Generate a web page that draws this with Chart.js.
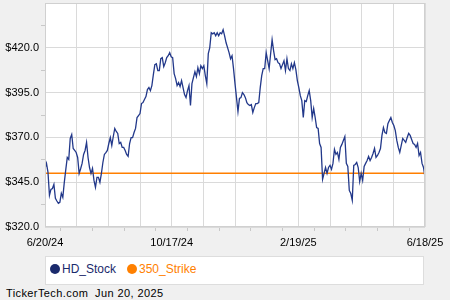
<!DOCTYPE html>
<html>
<head>
<meta charset="utf-8">
<script src="https://cdn.jsdelivr.net/npm/chart.js@4.4.1/dist/chart.umd.min.js"></script>
<style>
  body { margin:0; background:#f0f0f0; width:450px; height:300px; overflow:hidden; font-family:"Liberation Sans", Arial, sans-serif; }
  #grafica { position:absolute; left:0; top:0; }
  #leyenda { position:absolute; left:45px; top:256px; width:377px; height:27px; background:#fff; border:1px solid #ddd; }
  .item { position:absolute; top:5px; font-size:12px; line-height:14px; }
  .punto { display:inline-block; width:10px; height:10px; border-radius:50%; vertical-align:-1px; margin-right:2px; }
  #pie { position:absolute; left:6px; top:287px; font-size:11px; color:#000; letter-spacing:0.4px; }
</style>
</head>
<body>
<canvas id="grafica" width="450" height="250"></canvas>
<div id="leyenda">
  <span class="item" style="left:4px;color:#1a2a6c"><span class="punto" style="background:#1a2a6c"></span>HD_Stock</span>
  <span class="item" style="left:81px;color:#ff8000"><span class="punto" style="background:#ff8000"></span>350_Strike</span>
</div>
<div id="pie">TickerTech.com &nbsp;Jun 20, 2025</div>
<script>
// ****************** DATOS ******************
const fechas = ['6/20/24', '10/17/24', '2/19/25', '6/18/25'];
const ticksY = [320, 345, 370, 395, 420];
const strike = 350;
const yMin = 320, yMax = 445;

// precios de cierre HD
const precios = [
  352.7,355.5,350.6,337.7,341.0,341.5,343.8,336.0,334.5,333.2,
  333.8,338.8,336.5,344.9,352.0,358.8,357.7,369.4,371.6,363.8,
  362.7,361.6,358.8,349.9,352.5,355.5,360.5,362.7,367.2,358.8,
  353.2,349.9,352.7,346.0,342.1,347.7,347.7,344.9,349.9,356.0,
  360.5,361.5,362.7,366.6,369.9,365.5,370.5,375.0,373.3,372.2,
  366.6,367.2,364.4,364.4,362.7,360.5,359.4,366.6,369.9,369.9,
  372.7,375.0,381.1,382.2,383.3,388.9,389.4,391.1,392.8,396.7,
  397.8,396.1,398.9,405.0,410.6,411.1,407.3,407.3,413.9,414.5,
  409.5,411.7,414.5,415.6,417.3,415.0,414.5,405.6,402.8,398.9,
  400.6,
  398.4,401.7,397.8,393.9,392.2,396.1,398.9,387.8,400.0,403.4,
  406.7,403.9,408.9,405.6,410.0,408.4,410.0,404.5,400.0,416.7,
  420.1,428.4,427.8,428.4,426.7,428.4,426.7,428.4,427.8,430.1,
  426.7,422.8,420.1,417.3,413.9,415.6,408.4,400.0,392.2,384.4,
  391.7,392.2,395.0,393.9,392.2,389.4,388.3,387.8,388.3,383.9,
  386.6,388.9,388.9,389.4,397.8,404.5,408.4,408.4,417.3,412.8,
  408.4,416.7,424.5,418.4,413.4,413.9,411.7,411.1,408.4,410.6,
  412.8,407.3,413.9,408.4,407.3,411.1,408.4,411.7,407.8,401.7,
  397.8,393.3,
  390.5,381.1,390.5,390.0,393.3,396.1,390.5,381.1,386.1,381.1,
  375.5,375.0,366.6,364.4,346.6,349.9,353.2,349.9,353.2,354.4,
  352.2,355.5,363.3,360.5,361.6,357.7,364.4,366.1,368.3,370.5,
  355.5,353.8,340.4,338.7,334.9,354.4,354.9,356.0,353.2,345.4,
  349.9,346.0,353.8,355.5,357.1,359.4,357.1,358.8,361.0,363.8,
  358.8,359.9,361.6,363.8,371.1,375.5,372.7,372.2,377.7,379.4,
  381.1,378.3,376.6,373.8,368.3,364.4,361.6,365.5,369.4,368.3,
  367.2,369.9,372.2,371.1,368.8,366.6,366.1,364.4,366.6,359.9,
  361.6,355.5,353.2,347.7
];

const n = precios.length - 1;
const puntos = precios.map(function(v, i){ return {x: i, y: v}; });

// fondo blanco del area de trazado
const fondoPlot = {
  id: 'fondoPlot',
  beforeDraw: function(chart){
    const a = chart.chartArea, ctx = chart.ctx;
    ctx.save();
    ctx.fillStyle = '#fff';
    ctx.fillRect(a.left, a.top, a.width, a.height);
    ctx.restore();
  },
  afterDraw: function(chart){
    const a = chart.chartArea, ctx = chart.ctx;
    ctx.save();
    ctx.strokeStyle = '#d0d0d0';
    ctx.lineWidth = 1;
    ctx.strokeRect(Math.round(a.left) + 0.5, Math.round(a.top) + 0.5, Math.round(a.width) - 1, Math.round(a.height) - 1);
    ctx.restore();
  }
};

const fuente = { family: '"Liberation Sans", Arial, sans-serif', size: 11 };

new Chart(document.getElementById('grafica'), {
  type: 'line',
  data: {
    datasets: [{
      label: 'HD_Stock',
      data: puntos,
      borderColor: '#22388a',
      borderWidth: 1.3,
      pointRadius: 0,
      tension: 0
    }, {
      label: '350_Strike',
      data: [{x: 0, y: strike}, {x: n, y: strike}],
      borderColor: '#ff7f00',
      borderWidth: 1.5,
      pointRadius: 0
    }]
  },
  options: {
    responsive: false,
    animation: false,
    devicePixelRatio: 1,
    layout: { padding: { left: 0, right: 25, top: 3, bottom: 0 } },
    plugins: { legend: { display: false }, tooltip: { enabled: false } },
    scales: {
      x: {
        type: 'linear',
        min: 0,
        max: n,
        afterBuildTicks: function(s){
          const t = [];
          for (let i = 0; i <= 24; i++) t.push({ value: i * n / 24 });
          s.ticks = t;
        },
        afterFit: function(s){ s.height = 23; },
        ticks: {
          autoSkip: false,
          maxRotation: 0,
          padding: 5,
          color: '#000',
          font: fuente,
          callback: function(v, i){ return (i % 8 === 0) ? fechas[i / 8] : ''; }
        },
        grid: {
          tickLength: 4,
          color: function(c){ return c.index % 2 === 0 ? '#dadada' : 'rgba(0,0,0,0)'; },
          tickColor: function(c){ return c.index % 2 === 1 ? '#c8c8c8' : 'rgba(0,0,0,0)'; }
        },
        border: { display: false }
      },
      y: {
        min: yMin,
        max: yMax,
        afterBuildTicks: function(s){
          const t = [];
          for (let v = yMin; v <= yMax; v += 12.5) t.push({ value: v });
          s.ticks = t;
        },
        afterFit: function(s){ s.width = 45; s.paddingTop = 0; s.paddingBottom = 0; },
        ticks: {
          autoSkip: false,
          padding: 2,
          color: '#000',
          font: fuente,
          callback: function(v){ return ticksY.indexOf(v) >= 0 ? '$' + v.toFixed(1) : ''; }
        },
        grid: {
          tickLength: 4,
          color: function(c){ return c.index % 2 === 0 ? '#dadada' : 'rgba(0,0,0,0)'; },
          tickColor: function(c){ return c.index % 2 === 1 ? '#c8c8c8' : 'rgba(0,0,0,0)'; }
        },
        border: { display: false }
      }
    }
  },
  plugins: [fondoPlot]
});
</script>
</body>
</html>
